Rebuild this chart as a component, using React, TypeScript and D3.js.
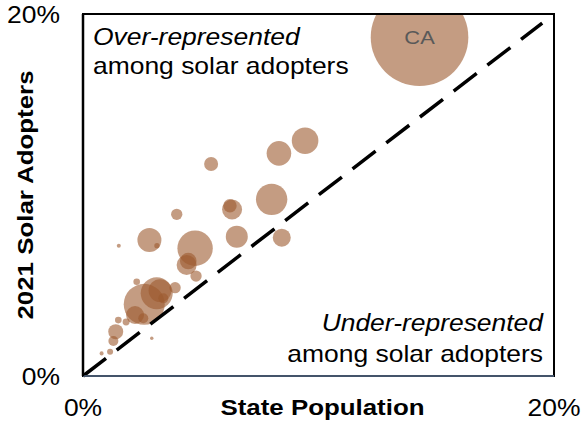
import React from 'react';
import * as d3 from 'd3';

const width = 582;
const height = 424;
const marginLeft = 83;
const marginRight = 28;
const marginTop = 14;
const marginBottom = 48;
const boundedWidth = width - marginLeft - marginRight;
const boundedHeight = height - marginTop - marginBottom;

const font = "'Liberation Sans', Arial, sans-serif";
const stretch = 1.15; // text in the picture is wider than plain Arial
const bubbleFill = "#9c5a2e";

// share of state population (%), share of 2021 solar adopters (%), bubble weight
const stateLabels = ["CA", "", "", "", "", "", "", "", "", "", "", "", "", "", "", "", "", "", "", "", "", "", "", "", "", "", "", "", "", "", "", ""];
const popShare = [14.29, 9.43, 8.32, 5.44, 8.01, 6.33, 6.24, 3.98, 6.53, 8.44, 2.82, 3.14, 1.52, 4.76, 4.40, 4.47, 4.80, 2.60, 3.13, 2.28, 3.91, 3.41, 2.21, 2.56, 1.50, 1.39, 1.29, 1.15, 0.79, 2.92, 1.83, 3.27];
const adopterShare = [18.72, 13.0, 12.30, 11.71, 9.76, 9.20, 9.41, 8.93, 7.70, 7.64, 7.51, 7.20, 7.20, 7.06, 6.13, 6.35, 5.52, 3.96, 4.57, 5.21, 4.88, 4.29, 3.37, 3.19, 3.09, 2.45, 1.93, 1.34, 1.25, 2.08, 2.98, 4.72];
const bubbleSize = [238, 17.7, 15.1, 4.9, 24.6, 10, 4.5, 3.2, 12.1, 8.1, 14.4, 0.7, 0.4, 31.3, 10, 6.9, 3.2, 42, 25.6, 1.1, 3.2, 2.5, 8.1, 2.5, 1.1, 5.6, 2.5, 0.9, 0.4, 0.3, 1.2, 13];

const axisTicks = [0, 20];
const parityLine = [0, 19.5];

type StretchProps = {
  x: number,
  y: number,
  size: number,
  anchor?: string,
  weight?: string,
  italic?: boolean,
  rotate?: number,
  fill?: string,
  children: React.ReactNode,
}

const SText = ({x, y, size, anchor = "start", weight = "normal", italic = false, rotate = 0, fill = "black", children}: StretchProps) => (
  <text
    transform={`translate(${x}, ${y}) rotate(${rotate}) scale(${stretch}, 1)`}
    textAnchor={anchor}
    fontSize={size}
    fontWeight={weight}
    fontStyle={italic ? "italic" : "normal"}
    fontFamily={font}
    fill={fill}
  >
    {children}
  </text>
);

const App: React.FC = () => {
  const xScale = d3.scaleLinear().domain([0, 20]).range([0, boundedWidth]);
  const yScale = d3.scaleLinear().domain([0, 20]).range([boundedHeight, 0]);
  const rScale = d3.scaleSqrt().domain([0, 238]).range([0, 48.8]);

  const bubbles = popShare.map((p, i) => ({
    label: stateLabels[i],
    cx: xScale(p),
    cy: yScale(adopterShare[i]),
    r: rScale(bubbleSize[i]),
  }));

  const line = d3.line<number>().x(d => xScale(d)).y(d => yScale(d));

  return (
    <svg width={width} height={height} style={{position: "absolute", left: 0, top: 0, background: "white"}}>
      <defs>
        <clipPath id="plot-clip">
          <rect x={0} y={0} width={boundedWidth} height={boundedHeight}/>
        </clipPath>
      </defs>

      {/* y tick labels */}
      {axisTicks.map(t => (
        <SText key={`y${t}`} x={60} y={marginTop + yScale(t) + 9} size={23} anchor="end">{t}%</SText>
      ))}
      {/* x tick labels */}
      {axisTicks.map(t => (
        <SText key={`x${t}`} x={marginLeft + xScale(t)} y={416} size={23} anchor="middle">{t}%</SText>
      ))}

      <SText x={marginLeft + boundedWidth / 2 + 4} y={415} size={22.5} anchor="middle" weight="bold">State Population</SText>
      <SText x={33} y={marginTop + boundedHeight / 2} size={22.5} anchor="middle" weight="bold" rotate={-90}>2021 Solar Adopters</SText>

      <g transform={`translate(${marginLeft}, ${marginTop})`}>
        <g clipPath="url(#plot-clip)">
          {bubbles.map((b, i) => (
            <circle key={i} cx={b.cx} cy={b.cy} r={b.r} fill={bubbleFill} fillOpacity={0.6}/>
          ))}
        </g>
        {bubbles.filter(b => b.label).map(b => (
          <SText key={b.label} x={b.cx} y={b.cy + 7} size={19} anchor="middle" fill="#595959">{b.label}</SText>
        ))}

        <path d={line(parityLine) || ""} fill="none" stroke="black" strokeWidth={3.5} strokeDasharray="29 13.5"/>

        <rect x={0} y={0} width={boundedWidth} height={boundedHeight} fill="none" stroke="black" strokeWidth={2}/>
        <line x1={0} x2={boundedWidth} y1={boundedHeight} y2={boundedHeight} stroke="#44546a" strokeWidth={2}/>
        <line x1={0} x2={0} y1={0} y2={boundedHeight} stroke="black" strokeWidth={2.5}/>

        <SText x={10} y={31} size={23} italic>Over-represented</SText>
        <SText x={10} y={60} size={23}>among solar adopters</SText>
        <SText x={boundedWidth - 11} y={317} size={23} anchor="end" italic>Under-represented</SText>
        <SText x={boundedWidth - 11} y={348} size={23} anchor="end">among solar adopters</SText>
      </g>
    </svg>
  );
};

export default App;
